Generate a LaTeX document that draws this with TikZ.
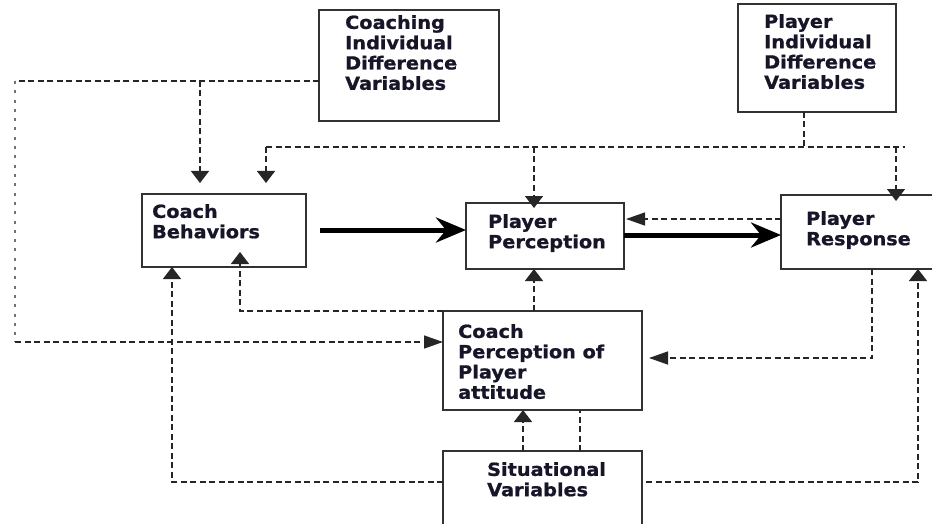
\documentclass[tikz,border=0pt]{standalone}
\usepackage{fontspec}
\newfontfamily\lbl{DejaVu Sans}[FakeStretch=1.07,FakeBold=1]
\usetikzlibrary{arrows.meta,calc}
\definecolor{boxc}{RGB}{50,50,50}
\definecolor{txtc}{RGB}{22,22,40}
\tikzset{
  box/.style={draw=boxc, line width=1.5pt, inner sep=0pt, outer sep=0pt},
  txt/.style={font=\lbl\bfseries\fontsize{18pt}{20.3pt}\selectfont, text=txtc, align=left, inner sep=0pt, anchor=north west},
  dsh/.style={draw=black!85, line width=1.4pt, dash pattern=on 6pt off 3.5pt},
  dotline/.style={draw=black!55, line width=2pt, dash pattern=on 3pt off 6.3pt},
  va/.style={-{Triangle[width=18pt,length=12pt]}},
  ha/.style={-{Triangle[width=13pt,length=19pt]}},
  thk/.style={line width=5pt, -{Stealth[length=30pt,width=25pt,inset=10pt]}}
}
\begin{document}
\begin{tikzpicture}[x=1pt,y=-1pt]
\useasboundingbox (0,0) rectangle (932,524);
% boxes
\node[box, minimum width=180pt, minimum height=111pt] (cidv) at (409,65.5) {};
\node[box, minimum width=158pt, minimum height=108pt] (pidv) at (817,58) {};
\node[box, minimum width=164pt, minimum height=73pt] (cb) at (224,230.5) {};
\node[box, minimum width=158pt, minimum height=66pt] (pp) at (545,236) {};
\node[box, minimum width=159pt, minimum height=74pt] (pr) at (860.5,232) {};
\node[box, minimum width=199pt, minimum height=99pt] (cppa) at (542.5,360.5) {};
\node[box, minimum width=199pt, minimum height=89pt] (sv) at (542.5,495.5) {};
% texts
\node[txt] (cidvt) at (345,15) {Coaching\\Individual\\Difference\\Variables};
\node[txt] (pidvt) at (764,14) {Player\\Individual\\Difference\\Variables};
\node[txt] (cbt) at (152,204) {Coach\\Behaviors};
\node[txt] (ppt) at (488,214) {Player\\Perception};
\node[txt] (prt) at (806,211) {Player\\Response};
\node[txt] (cppat) at (458,324) {Coach\\Perception of\\Player\\attitude};
\node[txt] (svt) at (487,462) {Situational\\Variables};
% coaching individual difference variables
\draw[dsh] (cidv.west |- 0,81) -- (15,81);
\draw[dotline] (15,81) -- (15,342);
\draw[dsh,ha] (15,342) -- (cppa.west |- 0,342);
\draw[dsh,va] (200,81) -- ($(cb.north -| 200,0)+(0,-11)$);
% player individual difference variables
\draw[dsh] (pidv.south -| 804,0) -- (804,147);
\draw[dsh] (266,147) -- (905,147);
\draw[dsh,va] (266,147) -- ($(cb.north -| 266,0)+(0,-11)$);
\draw[dsh,va] (534,147) -- ($(pp.north -| 534,0)+(0,5)$);
\draw[dsh,va] (896,147) -- ($(pr.north -| 896,0)+(0,6)$);
% main thick arrows
\draw[thk] ($(cb.east |- 0,230)+(14,0)$) -- (pp.west |- 0,230);
\draw[thk] (pp.east |- 0,235) -- (pr.west |- 0,235);
% feedback
\draw[dsh,ha] (pr.west |- 0,219) -- ($(pp.east |- 0,219)+(2,0)$);
\draw[dsh,va] (cppa.north -| 534,0) -- (pp.south -| 534,0);
\draw[dsh,va] (cppa.north west) -- (240,311) -- ($(cb.south -| 240,0)+(0,-15)$);
\draw[dsh,ha] (pr.south -| 872,0) -- (872,358) -- ($(cppa.east |- 0,358)+(7,0)$);
% situational variables
\draw[dsh,va] (sv.west |- 0,482) -- (172,482) -- (cb.south -| 172,0);
\draw[dsh,va] ($(sv.east |- 0,482)+(4,0)$) -- (918,482) -- (pr.south -| 918,0);
\draw[dsh,va] (sv.north -| 523,0) -- (cppa.south -| 523,0);
\draw[dsh] (sv.north -| 580,0) -- (cppa.south -| 580,0);
\end{tikzpicture}
\end{document}
